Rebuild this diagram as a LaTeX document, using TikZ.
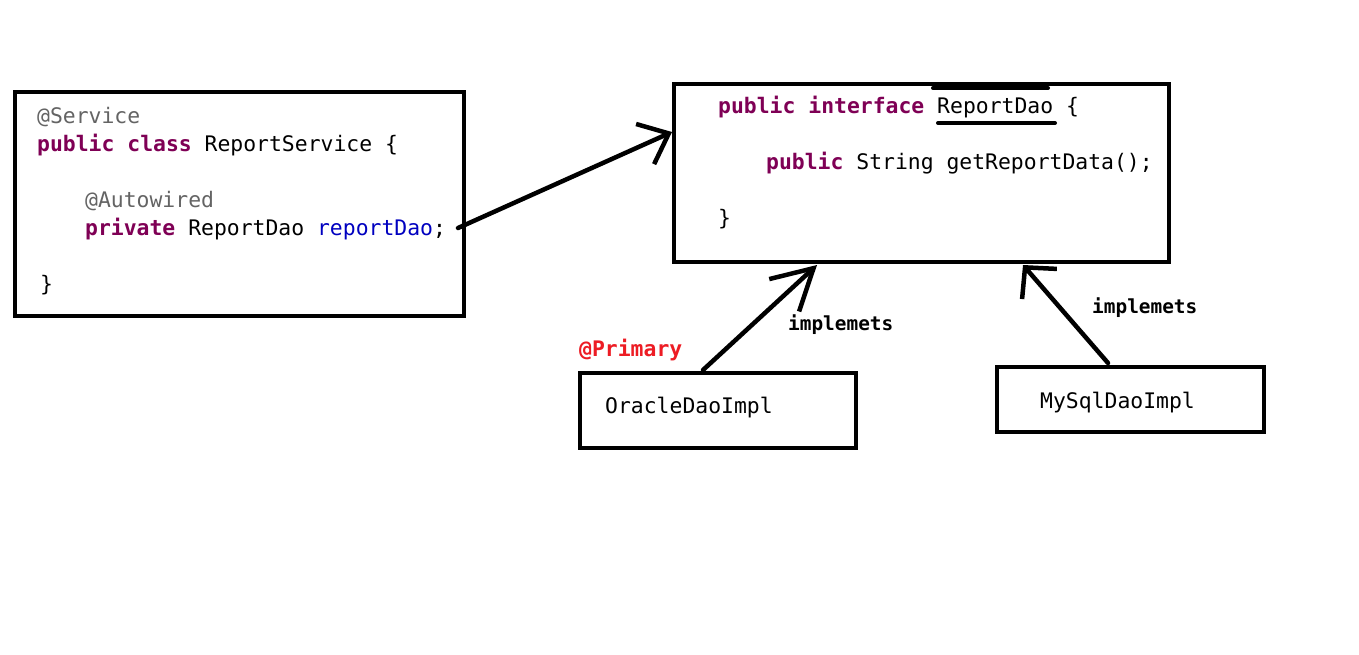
\documentclass[tikz,border=0pt]{standalone}
\usepackage{fontspec}
\newfontfamily\codefont{DejaVu Sans Mono}
\usetikzlibrary{arrows.meta}
\definecolor{kw}{HTML}{7F0055}
\definecolor{ann}{HTML}{646464}
\definecolor{fld}{HTML}{0000C0}
\definecolor{prim}{HTML}{ED1C24}
\begin{document}
\begin{tikzpicture}[x=1pt,y=-1pt,
  box/.style={draw=black, line width=4.5pt, inner sep=0pt},
  code/.style={font=\codefont\fontsize{21.4}{26}\selectfont, anchor=base west, inner sep=0pt},
  lbl/.style={font=\codefont\bfseries\fontsize{19.4}{23}\selectfont, anchor=base west, inner sep=0pt},
  conn/.style={line width=4.5pt, line cap=round, line join=round},
  hiliteline/.style={line width=4pt, line cap=round}]
\fill[white] (0,0) rectangle (1359,654);
\useasboundingbox (0,0) rectangle (1359,654);

% ReportService box
\node[box, minimum width=449pt, minimum height=224pt] (svc) at (239.5,204) {};
\node[code, text=ann] (t1) at (37,123) {@Service};
\node[code] (t2) at (37,151) {\textcolor{kw}{\bfseries public class} ReportService \{};
\node[code, text=ann] (t3) at (85,207) {@Autowired};
\node[code] (t4) at (85,235) {\textcolor{kw}{\bfseries private} ReportDao \textcolor{fld}{reportDao};};
\node[code] (t5) at (40,291) {\}};

% ReportDao interface box
\node[box, minimum width=495pt, minimum height=178pt] (iface) at (921.5,173) {};
\node[code] (u1) at (718,113) {\textcolor{kw}{\bfseries public interface} ReportDao \{};
\node[code] (u2) at (766,169) {\textcolor{kw}{\bfseries public} String getReportData();};
\node[code] (u3) at (718,225) {\}};
\draw[hiliteline] (933,88) -- (1048,88);
\draw[hiliteline] (938,123) -- (1055,123);

% implementations
\node[box, minimum width=276pt, minimum height=75pt] (ora) at (718,410.5) {};
\node[code] (otext) at (605,413) {OracleDaoImpl};
\node[box, minimum width=267pt, minimum height=65pt] (mys) at (1130.5,399.5) {};
\node[code] (mtext) at (1040,408) {MySqlDaoImpl};

\node[code, text=prim, font=\codefont\bfseries\fontsize{21.4}{26}\selectfont] (prim) at (579,356) {@Primary};
\node[lbl] (impl1) at (788,330) {implemets};
\node[lbl] (impl2) at (1092,313) {implemets};

% connectors
\coordinate (a1s) at (458,228);
\coordinate (a1e) at (672,132);
\coordinate (a2s) at (703,370);
\coordinate (a2e) at (817,265);
\coordinate (a3s) at (1108,363);
\coordinate (a3e) at (1023,265);
\draw[conn, -{Straight Barb[length=26pt, width=44pt, line width=4.5pt]}] (a1s) -- (a1e);
\draw[conn, -{Straight Barb[length=40pt, width=44pt, line width=4.5pt]}] (a2s) -- (a2e);
\draw[conn, -{Straight Barb[length=22pt, width=46pt, line width=4.5pt]}] (a3s) -- (a3e);
\end{tikzpicture}
\end{document}
